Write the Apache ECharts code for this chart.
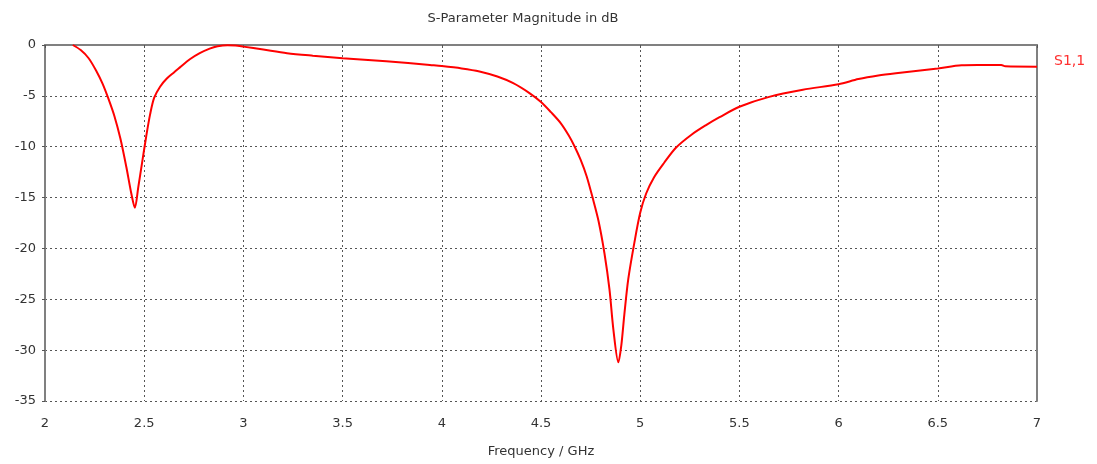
<!DOCTYPE html>
<html>
<head>
<meta charset="utf-8">
<script src="https://cdn.jsdelivr.net/npm/echarts@6/dist/echarts.min.js"></script>
<style>
  html, body { margin: 0; padding: 0; background: #fff; }
  #chart { width: 1097px; height: 464px; }
</style>
</head>
<body>
<div id="chart"></div>
<script>
// frequency (GHz) and S1,1 (dB)
var freq = [
  2.14, 2.18, 2.22, 2.26, 2.29, 2.32, 2.35, 2.38, 2.41, 2.435, 2.453,
  2.47, 2.49, 2.51, 2.53, 2.55, 2.58, 2.614, 2.65, 2.68, 2.73, 2.78, 2.83, 2.87, 2.92, 2.96,
  3.0, 3.1, 3.22, 3.35, 3.5, 3.72, 3.94, 4.0, 4.1, 4.19, 4.28, 4.36, 4.44, 4.5, 4.55, 4.6,
  4.64, 4.67, 4.70, 4.73, 4.76, 4.79, 4.82, 4.845, 4.865, 4.89,
  4.905, 4.92, 4.94, 4.97, 5.0, 5.03, 5.07, 5.12, 5.18, 5.26, 5.33, 5.4, 5.5, 5.65, 5.82,
  6.0, 6.1, 6.2, 6.3, 6.5, 6.62, 6.7, 6.82, 6.84, 7.0
];
var s11 = [
  0, -0.5, -1.3, -2.6, -3.8, -5.3, -7.0, -9.2, -12.0, -14.6, -16.0,
  -14.0, -11.5, -9.0, -6.8, -5.2, -4.1, -3.3, -2.7, -2.2, -1.4, -0.8, -0.35, -0.12, -0.02, -0.05,
  -0.16, -0.45, -0.8, -1.05, -1.3, -1.6, -1.97, -2.07, -2.3, -2.6, -3.1, -3.75, -4.7, -5.6, -6.6, -7.7,
  -8.9, -10, -11.3, -12.9, -15, -17.3, -20.5, -24, -28, -31.2,
  -29.5, -26.5, -23, -19.5, -16.5, -14.6, -13.0, -11.6, -10.1, -8.8, -7.9, -7.1, -6.07, -5.1, -4.4,
  -3.85, -3.35, -3.0, -2.75, -2.3, -2.0, -1.97, -1.97, -2.1, -2.13
];

var points = freq.map(function (f, i) { return [f, s11[i]]; });

var font = 'Tahoma, Verdana, "DejaVu Sans", sans-serif';
var chart = echarts.init(document.getElementById('chart'));

var option = {
  animation: false,
  title: {
    text: 'S-Parameter Magnitude in dB',
    left: 518,
    top: 7,
    textAlign: 'center',
    textStyle: { fontFamily: font, fontSize: 13, fontWeight: 'normal', color: '#333' }
  },
  grid: { left: 45, right: 60, top: 45, bottom: 63 },
  xAxis: {
    type: 'value',
    min: 2,
    max: 7,
    interval: 0.5,
    name: 'Frequency / GHz',
    nameLocation: 'middle',
    nameGap: 44,
    nameTextStyle: { fontFamily: font, fontSize: 13, color: '#333' },
    axisLine: { lineStyle: { color: '#808080', width: 2 } },
    axisTick: { show: true, length: 3, lineStyle: { color: '#555' } },
    axisLabel: { fontFamily: font, fontSize: 13, color: '#333', margin: 16 },
    splitLine: { show: true, lineStyle: { color: '#555', type: [2, 3], width: 1 } }
  },
  yAxis: [{
    type: 'value',
    min: -35,
    max: 0,
    interval: 5,
    axisLine: { show: true, lineStyle: { color: '#808080', width: 2 } },
    axisTick: { show: true, length: 3, lineStyle: { color: '#555' } },
    axisLabel: { fontFamily: font, fontSize: 13, color: '#333', margin: 9 },
    splitLine: { show: true, lineStyle: { color: '#555', type: [2, 3], width: 1 } }
  }, {
    type: 'value',
    position: 'right',
    min: -35,
    max: 0,
    interval: 5,
    axisLine: { show: true, lineStyle: { color: '#808080', width: 2 } },
    axisTick: { show: false },
    axisLabel: { show: false },
    splitLine: { show: false }
  }],
  series: [{
    type: 'line',
    name: 'S1,1',
    data: points,
    smooth: 0.3,
    showSymbol: false,
    lineStyle: { color: '#ff0000', width: 2 },
    itemStyle: { color: '#ff0000' },
    endLabel: {
      show: true,
      formatter: 'S1,1',
      distance: 17,
      fontFamily: font,
      fontSize: 14,
      color: '#ff3030',
      offset: [0, -5]
    }
  }]
};

chart.setOption(option);
</script>
</body>
</html>
